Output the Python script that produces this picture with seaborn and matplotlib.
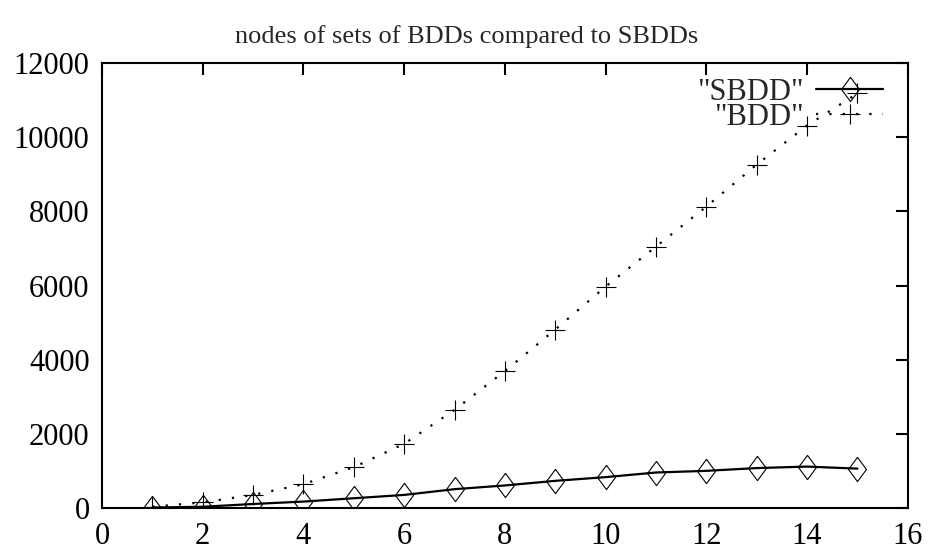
import matplotlib
matplotlib.use('Agg')
import matplotlib.pyplot as plt
import seaborn as sns

sets = list(range(1, 16))
sbdd_nodes = [5, 25, 100, 165, 255, 345, 500, 600, 725, 825, 950, 995, 1070, 1110, 1055]
bdd_nodes = [25, 145, 345, 635, 1095, 1725, 2640, 3690, 4810, 5970, 7050, 8130, 9265, 10320, 11185]

x_ticks = list(range(0, 17, 2))
y_ticks = list(range(0, 12001, 2000))

sns.set_theme(style='white')
plt.rcParams['font.family'] = ['Liberation Serif', 'DejaVu Serif']

fig = plt.figure(figsize=(9.3, 5.51), dpi=100)
ax = fig.add_axes([0.1097, 0.0786, 0.8664, 0.8065])

diamond = [(0, 1), (0.74, 0), (0, -1), (-0.74, 0), (0, 1)]

sns.lineplot(x=sets, y=sbdd_nodes, ax=ax, color='black', linewidth=1.6,
             marker=diamond, markersize=17.5, markerfacecolor='none',
             markeredgecolor='black', markeredgewidth=0.8, label='"SBDD"')
sns.lineplot(x=sets, y=bdd_nodes, ax=ax, color='black', linewidth=1.6,
             linestyle=(0, (1, 5)), marker='+', markersize=14.5,
             markeredgecolor='black', markeredgewidth=0.8, label='"BDD"')

ax.set_xlim(0, 16)
ax.set_ylim(0, 12000)
ax.set_xticks(x_ticks)
ax.set_yticks(y_ticks)
ax.tick_params(direction='in', length=8.5, width=1.5, top=True, right=True,
               labelsize=22, colors='black')
ax.tick_params(axis='x', pad=10)
ax.tick_params(axis='y', pad=9)
for s in ax.spines.values():
    s.set_linewidth(1.5)
    s.set_color('black')
ax.set_xlabel('')
ax.set_ylabel('')
fig.suptitle('nodes of sets of BDDs compared to SBDDs', fontsize=19,
             x=0.502, y=0.934, va='center')

ax.legend(loc='upper right', bbox_to_anchor=(0.996, 1.016), frameon=False,
          markerfirst=False, fontsize=22, handlelength=2.2, handletextpad=0.4,
          labelspacing=-0.12, borderaxespad=0.3)

fig.savefig('out.png', dpi=100)
